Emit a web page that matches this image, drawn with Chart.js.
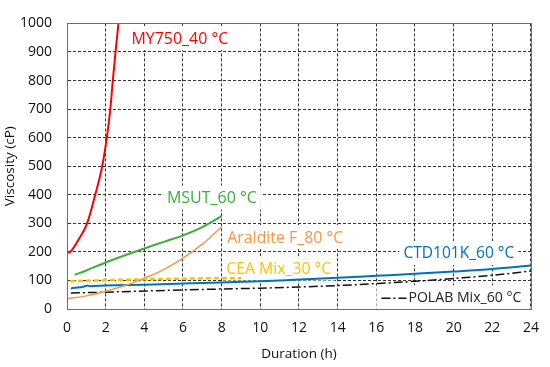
<!DOCTYPE html>
<html>
<head>
<meta charset="utf-8">
<script src="https://cdn.jsdelivr.net/npm/chart.js@4.4.1/dist/chart.umd.min.js"></script>
<style>
  html, body { margin: 0; padding: 0; background: #fff; }
</style>
</head>
<body>
<canvas id="myChart" width="550" height="367"></canvas>
<script>
// values (hours, cP)
const my750Hours = [0.07, 0.24, 0.66, 1.04, 1.46, 1.82, 2.06, 2.24, 2.37, 2.51, 2.66];
const my750Visc = [195, 205, 250, 300, 400, 500, 600, 700, 800, 900, 1000];

const msutHours = [0.4, 1, 2, 3, 4, 5, 6, 7, 8];
const msutVisc = [120, 135, 163, 188, 212, 235, 258, 287, 325];

const aralditeHours = [0, 1, 2, 3, 4, 5, 6, 7, 8];
const aralditeVisc = [36, 46, 62, 82, 108, 138, 178, 227, 288];

const ceaHours = [0.15, 1, 2, 4, 6, 8, 9];
const ceaVisc = [98, 99, 101, 104, 106, 108, 108];

const ctdHours = [0.2, 0.9, 1.05, 1.2, 2, 4, 6, 8, 10, 12, 14, 16, 18, 20, 22, 24];
const ctdVisc = [72, 79, 82, 80, 82, 85, 89, 93, 97, 103, 109, 116, 123, 131, 140, 152];

const polabHours = [0.2, 2, 4, 6, 8, 10, 12, 14, 16, 18, 20, 22, 24];
const polabVisc = [56, 59, 63, 67, 70, 73, 77, 82, 89, 97, 107, 118, 133];

const fontFamily = "'Open Sans', 'Noto Sans', sans-serif";

function toPoints(hours, visc) {
  return hours.map((h, i) => ({ x: h, y: visc[i] }));
}

// text labels next to the curves (left edge in hours, middle in cP, text width in px)
const curveLabels = [
  { text: "MY750_40 °C", x: 3.33, y: 949, w: 97, color: "#ff0000" },
  { text: "MSUT_60 °C", x: 5.17, y: 390, w: 90, color: "#3cae3c" },
  { text: "Araldite F_80 °C", x: 8.29, y: 252, w: 116, color: "#f79646" },
  { text: "CEA Mix_30 °C", x: 8.24, y: 142, w: 105, color: "#ffc000" },
  { text: "CTD101K_60 °C", x: 17.4, y: 196, w: 111, color: "#0070c0" },
  { text: "POLAB Mix_60 °C", x: 17.66, y: 41, w: 113, color: "#222222", sample: true },
];

function labelFont(ctx, l) {
  ctx.font = "16px " + fontFamily;
  const size = Math.min(16.5, 16 * l.w / ctx.measureText(l.text).width);
  return size.toFixed(2) + "px " + fontFamily;
}

const labelPlugin = {
  id: "curveLabels",
  beforeDatasetsDraw(chart) {
    const { ctx, scales } = chart;
    ctx.save();
    curveLabels.forEach((l) => {
      const px = scales.x.getPixelForValue(l.x);
      const py = scales.y.getPixelForValue(l.y);
      ctx.font = labelFont(ctx, l);
      const w = ctx.measureText(l.text).width;
      const extra = l.sample ? 28 : 0;
      ctx.fillStyle = "#fff";
      ctx.fillRect(px - 4 - extra, py - 12, w + 8 + extra, 24);
    });
    ctx.restore();
  },
  afterDatasetsDraw(chart) {
    const { ctx, scales, chartArea } = chart;
    ctx.save();
    ctx.textBaseline = "middle";
    curveLabels.forEach((l) => {
      const px = scales.x.getPixelForValue(l.x);
      const py = scales.y.getPixelForValue(l.y);
      ctx.font = labelFont(ctx, l);
      ctx.fillStyle = l.color;
      ctx.fillText(l.text, px, py + 1);
      if (l.sample) {
        ctx.strokeStyle = "#111";
        ctx.lineWidth = 1.5;
        ctx.setLineDash([9, 3, 2, 3]);
        ctx.beginPath();
        ctx.moveTo(px - 27, py + 1);
        ctx.lineTo(px - 2, py + 1);
        ctx.stroke();
        ctx.setLineDash([]);
      }
    });
    ctx.strokeStyle = "#6e6e6e";
    ctx.lineWidth = 1;
    ctx.strokeRect(
      Math.round(chartArea.left) + 0.5,
      Math.round(chartArea.top) + 0.5,
      Math.round(chartArea.right - chartArea.left),
      Math.round(chartArea.bottom - chartArea.top)
    );
    ctx.restore();
  },
};

const ctx = document.getElementById("myChart").getContext("2d");

new Chart(ctx, {
  type: "line",
  data: {
    datasets: [
      {
        label: "MY750_40 °C",
        data: toPoints(my750Hours, my750Visc),
        borderColor: "#ff0000",
        borderWidth: 2,
      },
      {
        label: "MSUT_60 °C",
        data: toPoints(msutHours, msutVisc),
        borderColor: "#3cae3c",
        borderWidth: 2,
      },
      {
        label: "Araldite F_80 °C",
        data: toPoints(aralditeHours, aralditeVisc),
        borderColor: "#f79646",
        borderWidth: 1.5,
      },
      {
        label: "CEA Mix_30 °C",
        data: toPoints(ceaHours, ceaVisc),
        borderColor: "#ffc000",
        borderWidth: 2.5,
        borderDash: [5, 3],
      },
      {
        label: "CTD101K_60 °C",
        data: toPoints(ctdHours, ctdVisc),
        borderColor: "#0070c0",
        borderWidth: 2,
      },
      {
        label: "POLAB Mix_60 °C",
        data: toPoints(polabHours, polabVisc),
        borderColor: "#111111",
        borderWidth: 1.5,
        borderDash: [9, 3, 2, 3],
      },
    ],
  },
  options: {
    responsive: false,
    animation: false,
    elements: {
      point: { radius: 0 },
      line: { cubicInterpolationMode: "monotone", fill: false },
    },
    layout: { padding: { left: 0, right: 14, top: 12, bottom: 0 } },
    plugins: {
      legend: { display: false },
      tooltip: { enabled: false },
    },
    scales: {
      x: {
        type: "linear",
        min: 0,
        max: 24,
        ticks: {
          stepSize: 2,
          padding: 11,
          color: "#111",
          font: { family: fontFamily, size: 14 },
        },
        grid: { color: "#333", tickLength: 0, drawTicks: false },
        border: { display: true, color: "#6e6e6e", dash: [3, 2] },
        title: {
          display: true,
          text: "Duration (h)",
          color: "#111",
          font: { family: fontFamily, size: 13.5 },
          padding: { top: 0, bottom: 5 },
        },
        afterFit(scale) {
          scale.height = 58;
        },
      },
      y: {
        min: 0,
        max: 1000,
        ticks: {
          stepSize: 100,
          padding: 15,
          color: "#111",
          font: { family: fontFamily, size: 14 },
          callback: (v) => String(v),
        },
        grid: { color: "#333", tickLength: 0, drawTicks: false },
        border: { display: true, color: "#6e6e6e", dash: [3, 2] },
        title: {
          display: true,
          text: "Viscosity (cP)",
          color: "#111",
          font: { family: fontFamily, size: 13.5 },
          padding: { top: 2, bottom: 0 },
        },
        afterFit(scale) {
          scale.width = 67;
        },
      },
    },
  },
  plugins: [labelPlugin],
});
</script>
</body>
</html>
